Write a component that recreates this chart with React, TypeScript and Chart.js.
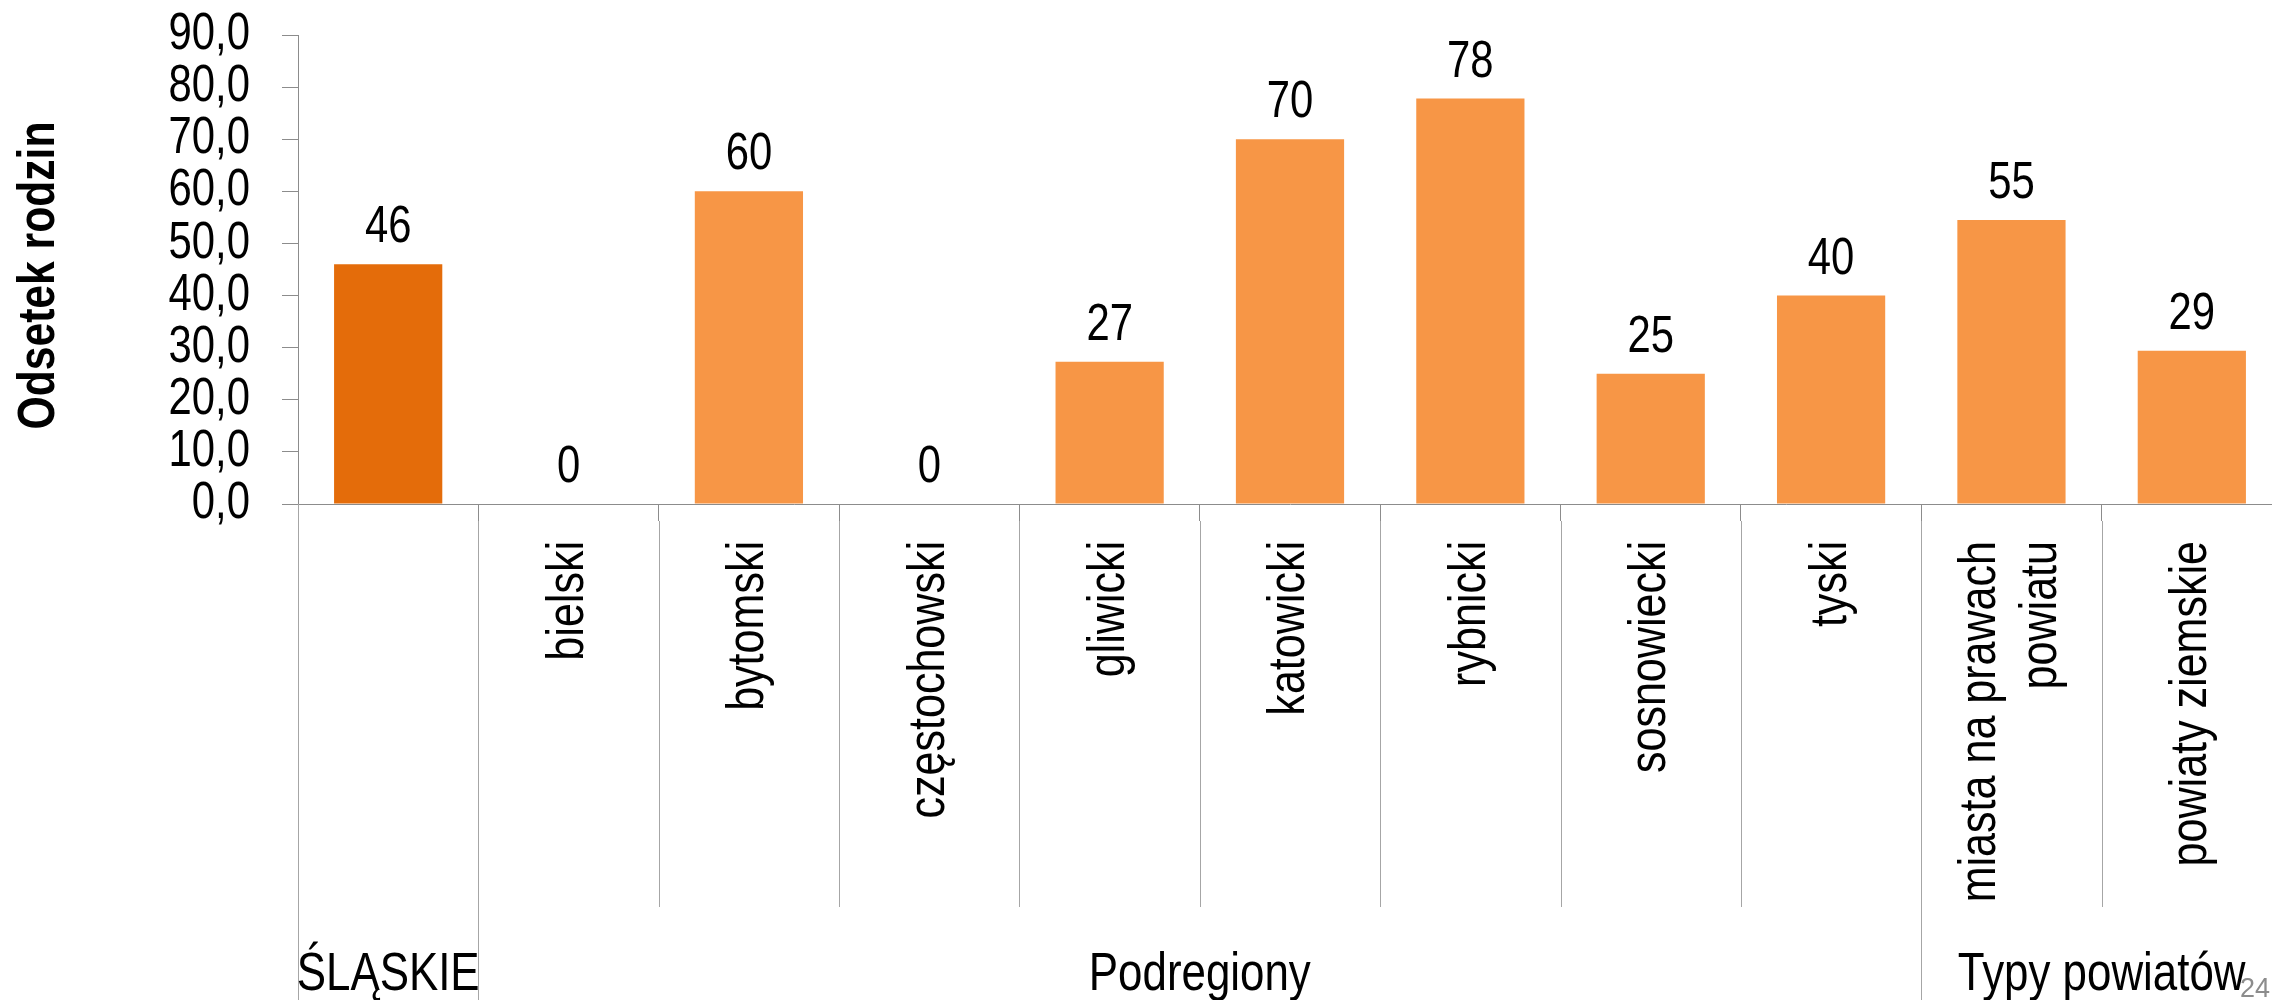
import React, { useEffect, useRef } from 'react';
import { Chart, registerables } from 'chart.js';

Chart.register(...registerables);

// ---- data ----
const categoryLines: string[][] = [
  [''],
  ['bielski'],
  ['bytomski'],
  ['częstochowski'],
  ['gliwicki'],
  ['katowicki'],
  ['rybnicki'],
  ['sosnowiecki'],
  ['tyski'],
  ['miasta na prawach', 'powiatu'],
  ['powiaty ziemskie'],
];
const values: number[] = [46, 0, 60, 0, 27.3, 70, 77.8, 25, 40, 54.5, 29.4];
const groupLabels: string[] = ['ŚLĄSKIE', 'Podregiony', 'Typy powiatów'];
const groupStarts: number[] = [0, 1, 9];
const groupEnds: number[] = [0, 8, 10];
const yMin = 0;
const yMax = 90;
const yStep = 10;
const yTitle = 'Odsetek rodzin';
const pageNumber = '24';

// ---- styles ----
const FAMILY = "'Liberation Sans', Arial, sans-serif";
const NARROW = 0.82; // horizontal condensing to emulate Arial Narrow
const FS = 51;
const CAT_FS = 52.5;
const GROUP_FS = 53.5;
const HIGHLIGHT = '#E46C0A';
const BASE = '#F79646';
const AXIS = '#8c8c8c';
const SEP = '#a6a6a6';

function narrowText(
  ctx: CanvasRenderingContext2D,
  text: string,
  x: number,
  y: number,
  align: CanvasTextAlign,
  baseline: CanvasTextBaseline,
  font: string,
  rotation = 0
) {
  ctx.save();
  ctx.translate(x, y);
  if (rotation) ctx.rotate(rotation);
  ctx.scale(NARROW, 1);
  ctx.font = font;
  ctx.textAlign = align;
  ctx.textBaseline = baseline;
  ctx.fillText(text, 0, 0);
  ctx.restore();
}

const overlay = {
  id: 'overlay',
  afterDatasetsDraw(chart: any) {
    const ctx = chart.ctx;
    const meta = chart.getDatasetMeta(0);
    ctx.save();
    ctx.fillStyle = '#000';
    meta.data.forEach((bar: any, i: number) => {
      narrowText(ctx, String(Math.round(values[i])), bar.x, bar.y - 22, 'center', 'alphabetic', `${FS}px ${FAMILY}`);
    });
    ctx.restore();
  },
  afterDraw(chart: any) {
    const ctx = chart.ctx;
    const xs = chart.scales.x;
    const ys = chart.scales.y;
    const ca = chart.chartArea;
    const n = values.length;
    const half = (xs.getPixelForValue(1) - xs.getPixelForValue(0)) / 2;
    const boundary = (b: number) =>
      b < n ? xs.getPixelForValue(b) - half : xs.getPixelForValue(n - 1) + half;
    ctx.save();
    // separators
    ctx.lineWidth = 1;
    for (let b = 0; b <= n; b++) {
      const x = Math.round(boundary(b)) + 0.5;
      const isGroup = groupStarts.includes(b) || b === n;
      ctx.strokeStyle = SEP;
      ctx.beginPath();
      ctx.moveTo(x, b === 0 ? ca.bottom : ca.bottom + 17);
      ctx.lineTo(x, isGroup ? chart.height : 907);
      ctx.stroke();
    }
    ctx.fillStyle = '#000';
    // y tick labels
    ys.ticks.forEach((t: any) => {
      const y = ys.getPixelForValue(t.value);
      narrowText(ctx, Number(t.value).toFixed(1).replace('.', ','), ca.left - 48, y, 'right', 'middle', `${FS}px ${FAMILY}`);
    });
    // y title
    narrowText(ctx, yTitle, 40, (ca.top + ca.bottom) / 2 + 6, 'center', 'middle', `bold 52px ${FAMILY}`, -Math.PI / 2);
    // category labels (rotated)
    const lh = 61;
    categoryLines.forEach((lines, i) => {
      const cx = xs.getPixelForValue(i);
      lines.forEach((ln, k) => {
        const off = (k - (lines.length - 1) / 2) * lh;
        ctx.save();
        ctx.translate(cx, ca.bottom + 37);
        ctx.rotate(-Math.PI / 2);
        ctx.translate(0, off);
        ctx.scale(NARROW, 1);
        ctx.font = `${CAT_FS}px ${FAMILY}`;
        ctx.textAlign = 'right';
        ctx.textBaseline = 'middle';
        ctx.fillText(ln, 0, 0);
        ctx.restore();
      });
    });
    // group labels
    groupLabels.forEach((g, k) => {
      const x0 = boundary(groupStarts[k]);
      const x1 = boundary(groupEnds[k] + 1);
      narrowText(ctx, g, (x0 + x1) / 2, 990, 'center', 'alphabetic', `${GROUP_FS}px ${FAMILY}`);
    });
    // page number
    ctx.fillStyle = '#8c8c8c';
    ctx.font = `27px ${FAMILY}`;
    ctx.textAlign = 'right';
    ctx.textBaseline = 'alphabetic';
    ctx.fillText(pageNumber, 2270, 997);
    ctx.restore();
  },
};

export default function App() {
  const ref = useRef<HTMLCanvasElement>(null);
  useEffect(() => {
    document.body.style.margin = '0';
    document.body.style.overflow = 'hidden';
    const canvas = ref.current!;
    const chart = new Chart(canvas, {
      type: 'bar',
      data: {
        labels: categoryLines.map((l) => l.join(' ')),
        datasets: [
          {
            data: values,
            backgroundColor: values.map((_, i) => (i === 0 ? HIGHLIGHT : BASE)),
            barPercentage: 0.6,
            categoryPercentage: 1,
            borderWidth: 0,
          },
        ],
      },
      options: {
        responsive: false,
        animation: false,
        events: [],
        layout: { padding: { top: 35, left: 0, right: 0, bottom: 0 } },
        plugins: { legend: { display: false }, tooltip: { enabled: false } },
        scales: {
          x: {
            offset: true,
            grid: {
              offset: true,
              drawOnChartArea: false,
              drawTicks: true,
              tickLength: 17,
              color: AXIS,
            },
            border: { display: true, color: AXIS },
            ticks: { display: false },
            afterFit: (s: any) => {
              s.height = 496;
            },
          },
          y: {
            min: yMin,
            max: yMax,
            grid: {
              drawOnChartArea: false,
              drawTicks: true,
              tickLength: 16,
              color: AXIS,
            },
            border: { display: true, color: AXIS },
            ticks: { display: false, stepSize: yStep, autoSkip: false },
            afterFit: (s: any) => {
              s.width = 298;
            },
          },
        },
      },
      plugins: [overlay],
    });
    return () => chart.destroy();
  }, []);
  return (
    <div style={{ width: 2272, height: 1000, overflow: 'hidden', background: '#fff' }}>
      <canvas ref={ref} width={2282} height={1000} style={{ display: 'block' }} />
    </div>
  );
}
